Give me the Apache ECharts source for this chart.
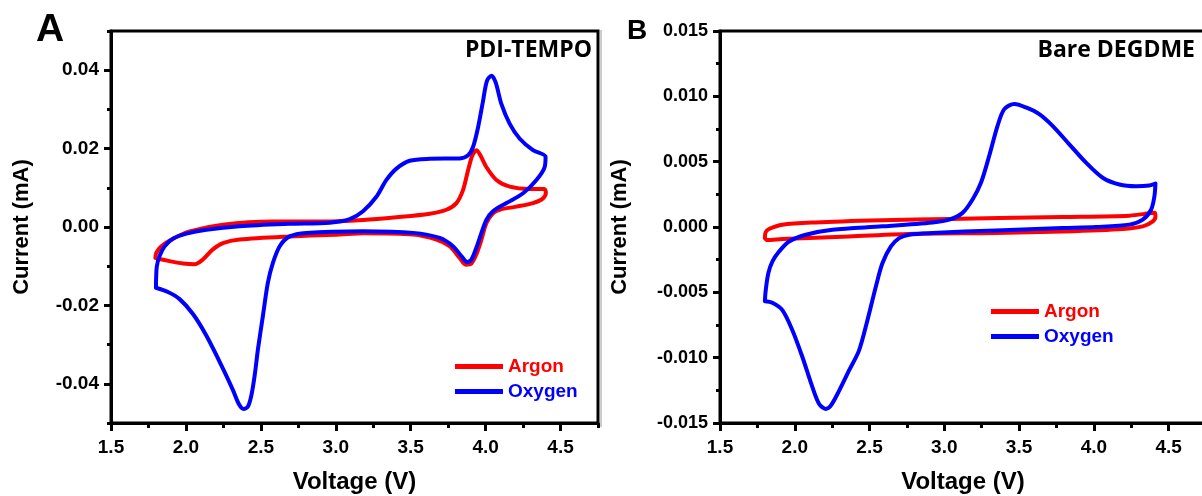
<!DOCTYPE html>
<html>
<head>
<meta charset="utf-8">
<script src="https://cdn.jsdelivr.net/npm/echarts@6/dist/echarts.min.js"></script>
<style>
html,body{margin:0;padding:0;background:#fff;}
#c{width:1202px;height:496px;}
</style>
</head>
<body>
<div id="c"></div>
<script>
// ---- tick values ----
const xTicks = [1.5, 2.0, 2.5, 3.0, 3.5, 4.0, 4.5];
const xMinorTicks = [1.75, 2.25, 2.75, 3.25, 3.75, 4.25, 4.75];
const yTicksA = [-0.04, -0.02, 0.0, 0.02, 0.04];
const yMinorTicksA = [-0.05, -0.03, -0.01, 0.01, 0.03, 0.05];
const yTicksB = [-0.015, -0.010, -0.005, 0.0, 0.005, 0.010, 0.015];
const yMinorTicksB = [-0.0125, -0.0075, -0.0025, 0.0025, 0.0075, 0.0125];

// ---- series (Voltage V, Current mA) ----
const argonA = [
  [1.796,-0.0079],[1.802,-0.0066],[1.836,-0.0049],[1.913,-0.0030],[2.025,-0.0011],
  [2.247,0.0006],[2.580,0.0014],[2.915,0.0014],[3.182,0.0018],[3.405,0.0025],
  [3.627,0.0034],[3.738,0.0044],[3.805,0.0061],[3.849,0.0094],[3.883,0.0145],
  [3.912,0.0183],[3.939,0.0196],[3.965,0.0183],[4.005,0.0153],[4.072,0.0120],
  [4.161,0.0103],[4.294,0.0097],[4.392,0.0097],[4.402,0.0088],[4.383,0.0073],
  [4.316,0.0061],[4.205,0.0052],[4.094,0.0044],[4.049,0.0035],[4.005,0.0010],
  [3.972,-0.0032],[3.938,-0.0070],[3.905,-0.0093],[3.867,-0.0096],[3.827,-0.0079],
  [3.760,-0.0049],[3.672,-0.0032],[3.516,-0.0019],[3.182,-0.0016],[3.026,-0.0019],
  [2.692,-0.0024],[2.358,-0.0032],[2.247,-0.0041],[2.180,-0.0057],[2.113,-0.0083],
  [2.058,-0.0095],[1.980,-0.0093],[1.891,-0.0087],[1.813,-0.0081],[1.796,-0.0079]
];
const oxygenA = [
  [1.800,-0.0155],[1.801,-0.0133],[1.806,-0.0100],[1.824,-0.0074],[1.858,-0.0049],
  [1.913,-0.0030],[2.003,-0.0017],[2.136,-0.0007],[2.358,0.0002],[2.692,0.0008],
  [2.960,0.0011],[3.093,0.0020],[3.182,0.0040],[3.271,0.0077],[3.338,0.0120],
  [3.405,0.0149],[3.493,0.0169],[3.627,0.0174],[3.827,0.0175],[3.883,0.0183],
  [3.916,0.0204],[3.950,0.0255],[3.983,0.0322],[4.009,0.0373],[4.039,0.0386],
  [4.067,0.0369],[4.105,0.0314],[4.161,0.0263],[4.228,0.0225],[4.316,0.0196],
  [4.400,0.0179],[4.394,0.0153],[4.339,0.0120],[4.250,0.0086],[4.139,0.0061],
  [4.049,0.0040],[4.005,0.0018],[3.972,-0.0015],[3.938,-0.0053],[3.905,-0.0083],
  [3.876,-0.0089],[3.838,-0.0074],[3.782,-0.0049],[3.694,-0.0028],[3.516,-0.0015],
  [3.182,-0.0011],[2.804,-0.0015],[2.692,-0.0024],[2.626,-0.0049],[2.581,-0.0091],
  [2.547,-0.0142],[2.514,-0.0226],[2.481,-0.0311],[2.459,-0.0378],[2.437,-0.0429],
  [2.414,-0.0458],[2.385,-0.0464],[2.354,-0.0452],[2.314,-0.0416],[2.247,-0.0361],
  [2.136,-0.0277],[2.047,-0.0222],[1.958,-0.0184],[1.880,-0.0166],[1.800,-0.0155]
];
const argonB = [
  [1.800,-0.00085],[1.805,-0.00040],[1.828,-0.00015],[1.917,0.00018],[2.141,0.00035],
  [2.586,0.00051],[3.033,0.00062],[3.367,0.00069],[3.791,0.00077],[4.238,0.00087],
  [4.371,0.00105],[4.408,0.00110],[4.412,0.00080],[4.394,0.00043],[4.327,0.00005],
  [4.193,-0.00015],[3.791,-0.00034],[3.345,-0.00046],[2.810,-0.00052],[2.363,-0.00072],
  [1.917,-0.00092],[1.817,-0.00100],[1.800,-0.00085]
];
const oxygenB = [
  [1.800,-0.00568],[1.806,-0.00482],[1.823,-0.00354],[1.850,-0.00265],[1.895,-0.00188],
  [1.962,-0.00111],[2.074,-0.00059],[2.252,-0.00021],[2.586,0.00005],[2.921,0.00035],
  [3.033,0.00056],[3.122,0.00108],[3.189,0.00210],[3.245,0.00338],[3.300,0.00543],
  [3.356,0.00774],[3.401,0.00902],[3.468,0.00941],[3.546,0.00915],[3.635,0.00864],
  [3.724,0.00774],[3.836,0.00633],[3.948,0.00492],[4.059,0.00377],[4.171,0.00325],
  [4.282,0.00312],[4.371,0.00318],[4.412,0.00333],[4.405,0.00235],[4.383,0.00133],
  [4.327,0.00056],[4.238,0.00018],[4.015,0.00000],[3.791,-0.00008],[3.345,-0.00026],
  [2.921,-0.00046],[2.765,-0.00059],[2.698,-0.00085],[2.643,-0.00149],[2.586,-0.00277],
  [2.542,-0.00457],[2.486,-0.00713],[2.430,-0.00944],[2.363,-0.01098],[2.297,-0.01252],
  [2.241,-0.01367],[2.207,-0.01392],[2.163,-0.01354],[2.118,-0.01226],[2.051,-0.00995],
  [1.984,-0.00790],[1.917,-0.00636],[1.850,-0.00580],[1.800,-0.00568]
];

const RED = '#ff0000', BLUE = '#0000ff';
const FONT = 'Liberation Sans';
const TITLEFONT = 'Open Sans';

function mainX(gi) {
  return {
    gridIndex: gi, type: 'value', min: 1.5, max: 4.75,
    name: 'Voltage (V)', nameLocation: 'middle', nameGap: 47,
    nameTextStyle: {fontFamily: FONT, fontWeight: 'bold', fontSize: 24, color: '#000'},
    axisLine: {show: true, onZero: false, lineStyle: {color: '#000', width: 3}},
    axisTick: {show: true, inside: false, customValues: xTicks, length: 8, lineStyle: {color: '#000', width: 3}},
    axisLabel: {show: true, customValues: xTicks, margin: 15, formatter: v => v.toFixed(1),
      fontFamily: FONT, fontWeight: 'bold', fontSize: 19, color: '#000'},
    splitLine: {show: false}
  };
}
function minorX(gi) {
  return {
    gridIndex: gi, type: 'value', min: 1.5, max: 4.75, position: 'bottom',
    axisLine: {show: false, onZero: false},
    axisTick: {show: true, customValues: xMinorTicks, length: 5, lineStyle: {color: '#000', width: 3}},
    axisLabel: {show: false}, splitLine: {show: false}
  };
}
function mainY(gi, mn, mx, ticks, dec, gap, fs) {
  return {
    gridIndex: gi, type: 'value', min: mn, max: mx,
    name: 'Current (mA)', nameLocation: 'middle', nameGap: gap,
    nameTextStyle: {fontFamily: FONT, fontWeight: 'bold', fontSize: 22, color: '#000'},
    axisLine: {show: true, onZero: false, lineStyle: {color: '#000', width: 3}},
    axisTick: {show: true, customValues: ticks, length: 7, lineStyle: {color: '#000', width: 3}},
    axisLabel: {show: true, customValues: ticks, margin: 12, formatter: v => (Math.abs(v) < 1e-12 ? 0 : v).toFixed(dec),
      fontFamily: FONT, fontWeight: 'bold', fontSize: fs, color: '#000'},
    splitLine: {show: false}
  };
}
function minorY(gi, mn, mx, ticks) {
  return {
    gridIndex: gi, type: 'value', min: mn, max: mx, position: 'left',
    axisLine: {show: false, onZero: false},
    axisTick: {show: true, customValues: ticks, length: 4, lineStyle: {color: '#000', width: 3}},
    axisLabel: {show: false}, splitLine: {show: false}
  };
}
function lineSeries(name, data, color, xi, yi) {
  return {
    name: name, type: 'line', data: data, xAxisIndex: xi, yAxisIndex: yi,
    showSymbol: false, symbol: 'none', smooth: 0.3,
    lineStyle: {color: color, width: 4, cap: 'round', join: 'round'},
    itemStyle: {color: color}, animation: false
  };
}
function legendAt(left, top) {
  return {
    orient: 'vertical', left: left, top: top, padding: 0,
    itemWidth: 48, itemHeight: 5, itemGap: 6, icon: 'rect',
    selectedMode: false,
    textStyle: {fontFamily: FONT, fontWeight: 'bold', fontSize: 19},
    data: [{name: 'Argon', textStyle: {color: RED}}, {name: 'Oxygen', textStyle: {color: BLUE}}]
  };
}

const chart = echarts.init(document.getElementById('c'), null, {renderer: 'canvas'});
chart.setOption({
  animation: false,
  backgroundColor: '#fff',
  title: [
    {text: 'A', left: 36, top: 11, padding: 0, textStyle: {fontFamily: FONT, fontWeight: 'bold', fontSize: 39, color: '#000'}},
    {text: 'B', left: 627, top: 17, padding: 0, textStyle: {fontFamily: FONT, fontWeight: 'bold', fontSize: 28, color: '#000'}},
    {text: 'PDI-TEMPO', right: 610, top: 39, padding: 0, textStyle: {fontFamily: TITLEFONT, fontWeight: 'bold', fontSize: 23, color: '#000'}},
    {text: 'Bare DEGDME', right: 7, top: 39, padding: 0, textStyle: {fontFamily: TITLEFONT, fontWeight: 'bold', fontSize: 23, color: '#000'}}
  ],
  legend: [legendAt(455, 357), legendAt(991, 302)],
  grid: [
    {left: 111, right: 604, top: 31, bottom: 73, outerBoundsMode: 'none', containLabel: false, show: true, borderColor: '#000', borderWidth: 3, backgroundColor: 'transparent'},
    {left: 720, right: -4, top: 31, bottom: 73, outerBoundsMode: 'none', containLabel: false, show: true, borderColor: '#000', borderWidth: 3, backgroundColor: 'transparent'}
  ],
  xAxis: [mainX(0), minorX(0), mainX(1), minorX(1)],
  yAxis: [
    mainY(0, -0.05, 0.05, yTicksA, 2, 78, 19), minorY(0, -0.05, 0.05, yMinorTicksA),
    mainY(1, -0.015, 0.015, yTicksB, 3, 89, 18), minorY(1, -0.015, 0.015, yMinorTicksB)
  ],
  series: [
    lineSeries('Argon', argonA, RED, 0, 0),
    lineSeries('Oxygen', oxygenA, BLUE, 0, 0),
    lineSeries('Argon', argonB, RED, 2, 2),
    lineSeries('Oxygen', oxygenB, BLUE, 2, 2)
  ],
  graphic: [
    {type: 'line', shape: {x1: 601, y1: 30, x2: 601, y2: 427}, style: {stroke: '#999', lineWidth: 1}, silent: true}
  ]
});
</script>
</body>
</html>
